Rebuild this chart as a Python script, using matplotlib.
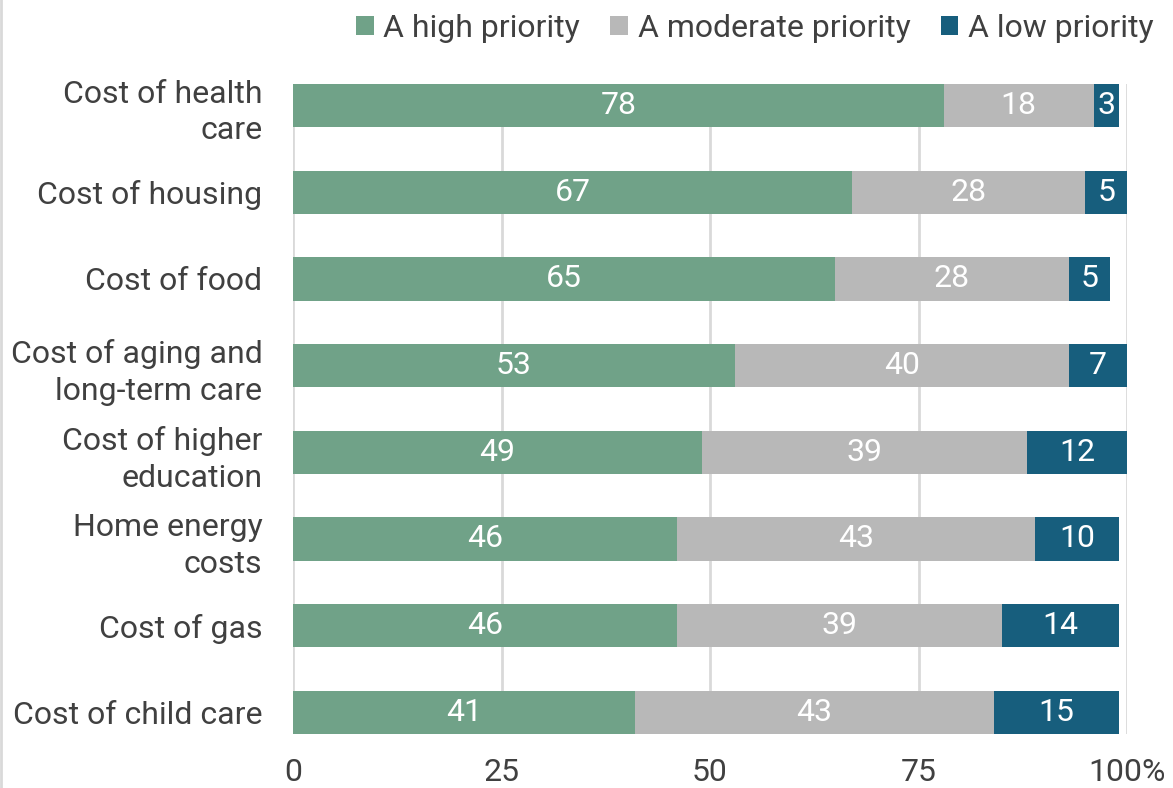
import matplotlib
matplotlib.use("Agg")
import matplotlib.pyplot as plt
from matplotlib.patches import Patch
from matplotlib.lines import Line2D

plt.rcParams["font.family"] = ["Roboto", "DejaVu Sans"]

categories = ["Cost of health\ncare", "Cost of housing", "Cost of food",
              "Cost of aging and\nlong-term care", "Cost of higher\neducation",
              "Home energy\ncosts", "Cost of gas", "Cost of child care"]
high = [78, 67, 65, 53, 49, 46, 46, 41]
moderate = [18, 28, 28, 40, 39, 43, 39, 43]
low = [3, 5, 5, 7, 12, 10, 14, 15]
series_names = ["A high priority", "A moderate priority", "A low priority"]
colors = ["#70a288", "#b8b8b8", "#175e7d"]
xticks = [0, 25, 50, 75, 100]
xtick_labels = ["0", "25", "50", "75", "100%"]

text_col = "#404040"
fs = 23

fig = plt.figure(figsize=(11.73, 7.88), dpi=100)
ax = fig.add_axes([0.2498, 0.0685, 0.711, 0.825])

y = list(range(len(categories)))
left = [0] * len(categories)
for vals, col in zip([high, moderate, low], colors):
    ax.barh(y, vals, left=left, height=0.5, color=col, zorder=3)
    for yi, (l, v) in enumerate(zip(left, vals)):
        ax.text(l + v / 2, yi, str(v), ha="center", va="center",
                color="white", fontsize=fs, zorder=4)
    left = [l + v for l, v in zip(left, vals)]

ax.set_ylim(len(categories) - 0.75, -0.25)
ax.set_xlim(0, 100)
ax.set_yticks(y)
ax.set_yticklabels(categories, fontsize=fs, color=text_col, linespacing=1.34)
ax.set_xticks(xticks)
ax.set_xticklabels(xtick_labels, fontsize=fs, color=text_col)
ax.tick_params(axis="both", length=0)
ax.tick_params(axis="y", pad=22)
ax.tick_params(axis="x", pad=17)
for s in ax.spines.values():
    s.set_visible(False)
ax.grid(axis="x", color="#d9d9d9", linewidth=2, zorder=0)
ax.set_axisbelow(True)

handles = [Patch(facecolor=c, edgecolor="none") for c in colors]
fig.legend(handles, series_names, loc="upper right", bbox_to_anchor=(0.997, 1.003),
           ncol=3, frameon=False, fontsize=fs, labelcolor=text_col,
           handlelength=0.55, handleheight=0.55, handletextpad=0.3,
           columnspacing=0.95, borderaxespad=0.1)

fig.add_artist(Line2D([0.001, 0.001], [0, 1], transform=fig.transFigure,
                      color="#d9d9d9", linewidth=2))

plt.savefig("out.png", dpi=100)
plt.close()
